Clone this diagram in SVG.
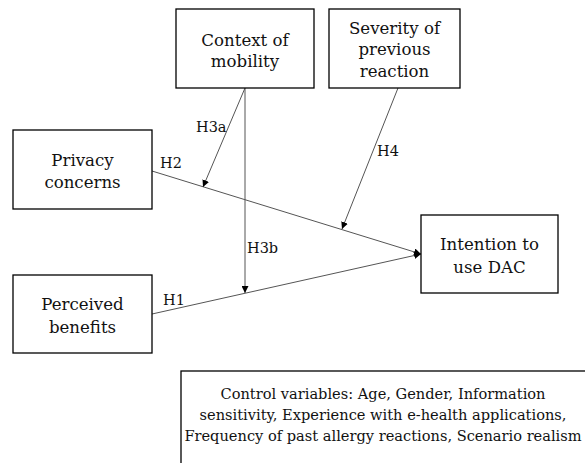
<svg xmlns="http://www.w3.org/2000/svg" width="585" height="463" viewBox="0 0 585 463">
<style>
text{font-family:'DejaVu Serif','Liberation Serif',serif;fill:#111}
.t{font-size:16.6px;text-anchor:middle}
.lbl{font-size:14.5px}
.ctl{font-size:14.6px;text-anchor:middle}
.box{fill:#fff;stroke:#000;stroke-width:1.3}
.c{stroke:#555;stroke-width:1;fill:none;marker-end:url(#ah)}
</style>
<defs>
<marker id="ah" viewBox="0 0 10 10" refX="10" refY="5" markerWidth="7" markerHeight="7" markerUnits="userSpaceOnUse" orient="auto">
<path d="M0,0 L10,5 L0,10 z" fill="#000"/>
</marker>
</defs>
<rect width="585" height="463" fill="#fff"/>
<g id="connectors">
<line class="c" x1="152" y1="171" x2="421" y2="254"/>
<line class="c" x1="152" y1="314" x2="421" y2="254"/>
<line class="c" x1="245" y1="88" x2="245" y2="293"/>
<line class="c" x1="245" y1="88" x2="203" y2="187"/>
<line class="c" x1="398" y1="88" x2="342" y2="229"/>
<text class="lbl" x="160" y="168">H2</text>
<text class="lbl" x="196" y="132">H3a</text>
<text class="lbl" x="377" y="156">H4</text>
<text class="lbl" x="247" y="253">H3b</text>
<text class="lbl" x="163" y="305">H1</text>
</g>
<g id="context">
<rect class="box" x="176" y="9" width="138" height="79"/>
<text class="t" x="245" y="46">Context of</text>
<text class="t" x="245" y="67">mobility</text>
</g>
<g id="severity">
<rect class="box" x="329" y="9" width="131" height="79"/>
<text class="t" x="394.5" y="34">Severity of</text>
<text class="t" x="394.5" y="55">previous</text>
<text class="t" x="394.5" y="77">reaction</text>
</g>
<g id="privacy">
<rect class="box" x="13" y="130" width="139" height="79"/>
<text class="t" x="82.5" y="166">Privacy</text>
<text class="t" x="82.5" y="188">concerns</text>
</g>
<g id="perceived">
<rect class="box" x="13" y="275" width="139" height="78"/>
<text class="t" x="82.5" y="310">Perceived</text>
<text class="t" x="82.5" y="333">benefits</text>
</g>
<g id="intention">
<rect class="box" x="421" y="215" width="137" height="78"/>
<text class="t" x="489.5" y="250">Intention to</text>
<text class="t" x="489.5" y="273">use DAC</text>
</g>
<g id="controls">
<rect class="box" x="181" y="371" width="420" height="100"/>
<text class="ctl" x="383" y="399">Control variables: Age, Gender, Information</text>
<text class="ctl" x="383" y="420">sensitivity, Experience with e-health applications,</text>
<text class="ctl" x="383" y="441">Frequency of past allergy reactions, Scenario realism</text>
</g>
</svg>
